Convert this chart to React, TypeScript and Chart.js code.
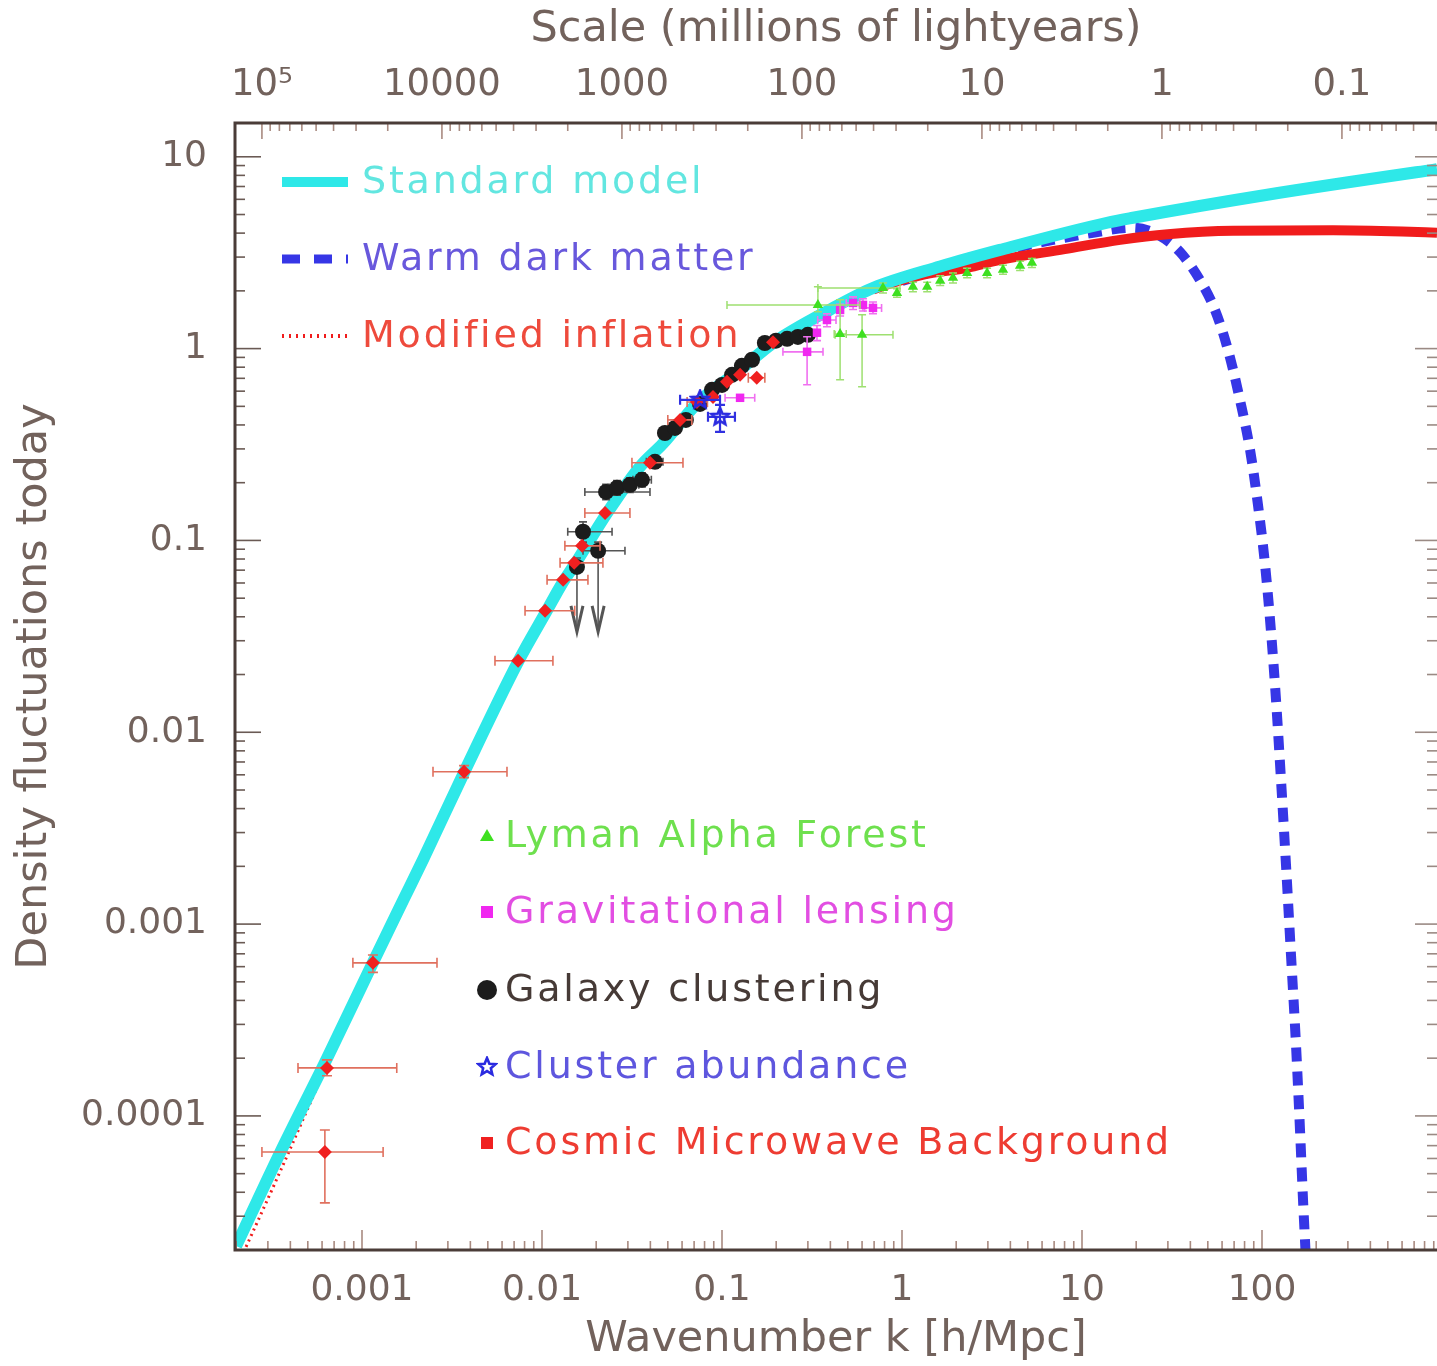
import React, { useEffect, useRef } from "react";
import { Chart, registerables } from "chart.js";
Chart.register(...registerables);

// ---------- axis ranges ----------
const K_MIN = 1.97e-4;
const K_MAX = 938;
const D_MIN = 2.0e-5;
const D_MAX = 15;
const MLY_PER_INV_K = 27.8; // scale [Mly] = MLY_PER_INV_K / k

const K_TICKS = [0.001, 0.01, 0.1, 1, 10, 100];
const K_TICK_LABELS = ["0.001", "0.01", "0.1", "1", "10", "100"];
const D_TICKS = [0.0001, 0.001, 0.01, 0.1, 1, 10];
const D_TICK_LABELS = ["0.0001", "0.001", "0.01", "0.1", "1", "10"];
const SCALE_TICKS = [1e5, 1e4, 1e3, 100, 10, 1, 0.1];
const SCALE_TICK_LABELS = ["10\u2075", "10000", "1000", "100", "10", "1", "0.1"];

// ---------- model curves ----------
const STD_K = [2.0e-4, 3.5e-4, 6.4e-4, 1.15e-3, 1.7e-3, 2.2e-3, 3.7e-3, 7.4e-3, 0.0107, 0.0131, 0.0149, 0.023, 0.035, 0.047, 0.073, 0.126, 0.192, 0.4, 0.69, 1.63, 3.5, 13.8, 19.2, 107, 890, 938];
const STD_Y = [2.1e-5, 6.4e-5, 2.0e-4, 6.3e-4, 1.34e-3, 2.2e-3, 6.2e-3, 0.0235, 0.0435, 0.0608, 0.0728, 0.139, 0.242, 0.32, 0.521, 0.775, 1.07, 1.6, 2.07, 2.68, 3.27, 4.53, 4.81, 6.34, 8.55, 8.61];

const WDM_K = [1.0, 3.5, 11.5, 19.2, 27.1, 35.0, 45.2, 54.8, 64.7, 75.4, 85.8, 95.0, 104, 112, 119.6, 127.5, 135.9, 144.9, 154.5, 162.6, 169, 175.5];
const WDM_Y = [2.25, 3.2, 4.02, 4.27, 3.87, 3.19, 2.28, 1.59, 0.986, 0.541, 0.297, 0.153, 0.0746, 0.0342, 0.0148, 5.65e-3, 2.04e-3, 6.9e-4, 2.34e-4, 8.45e-5, 3.65e-5, 1.77e-5];

const MI_K = [2.0e-4, 3.5e-4, 6.4e-4, 1.15e-3, 3.7e-3, 0.0107, 0.035, 0.126, 0.4, 0.69, 1.3, 2.3, 3.5, 8.0, 16.3, 30, 69, 248, 600, 938];
const MI_Y = [1.6e-5, 5.1e-5, 1.85e-4, 6.1e-4, 6.1e-3, 0.043, 0.24, 0.77, 1.58, 2.03, 2.42, 2.64, 2.9, 3.3, 3.69, 3.95, 4.12, 4.14, 4.08, 4.02];

// ---------- measurements ----------
const LYA_K = [0.341, 0.784, 0.453, 0.6, 0.938, 1.15, 1.38, 1.63, 1.92, 2.3, 2.97, 3.64, 4.53, 5.27];
const LYA_Y = [1.69, 2.07, 1.19, 1.18, 1.95, 2.1, 2.1, 2.26, 2.34, 2.48, 2.48, 2.58, 2.7, 2.8];
const LYA_KLO = [0.1066, 0.341, 0.42, 0.425, null, null, null, null, null, null, null, null, null, null];
const LYA_KHI = [0.585, 0.975, 0.49, 0.891, null, null, null, null, null, null, null, null, null, null];
const LYA_YLO = [1.556, 1.95, 0.688, 0.632, 1.85, 1.98, 1.98, 2.13, 2.2, 2.34, 2.34, 2.44, 2.55, 2.65];
const LYA_YHI = [2.1, 2.2, 1.8, 1.5, 2.05, 2.22, 2.22, 2.4, 2.48, 2.62, 2.62, 2.72, 2.85, 2.95];

const LEN_K = [0.126, 0.297, 0.337, 0.383, 0.453, 0.535, 0.607, 0.69];
const LEN_Y = [0.554, 0.962, 1.21, 1.41, 1.59, 1.73, 1.69, 1.63];
const LEN_KLO = [0.104, 0.218, null, 0.34, null, 0.49, null, 0.62];
const LEN_KHI = [0.152, 0.364, null, 0.43, null, 0.58, null, 0.77];
const LEN_YLO = [null, 0.648, 1.1, 1.3, 1.48, 1.6, 1.57, 1.52];
const LEN_YHI = [null, 1.152, 1.32, 1.52, 1.7, 1.86, 1.82, 1.75];

const GAL_K = [0.01564, 0.0205, 0.0169, 0.0227, 0.0261, 0.0308, 0.0359, 0.0424, 0.0482, 0.0548, 0.063, 0.0755, 0.088, 0.1, 0.1137, 0.129, 0.1468, 0.173, 0.1995, 0.23, 0.264, 0.3];
const GAL_Y = [0.0728, 0.0883, 0.111, 0.179, 0.188, 0.195, 0.207, 0.257, 0.363, 0.386, 0.425, 0.515, 0.61, 0.647, 0.73, 0.813, 0.875, 1.07, 1.1, 1.125, 1.15, 1.18];
const GAL_KLO = [null, 0.0169, 0.0139, 0.0173, 0.0232, 0.0275, 0.032, 0.038, null, null, null, null, null, null, null, null, null, null, null, null, null, null];
const GAL_KHI = [null, 0.0289, 0.0245, 0.0398, 0.0295, 0.0345, 0.0405, 0.047, null, null, null, null, null, null, null, null, null, null, null, null, null, null];
const GAL_YLO = [0.0334, 0.0334, 0.098, 0.163, 0.172, 0.178, 0.19, 0.238, 0.34, 0.36, 0.4, null, null, null, null, null, null, null, null, null, null, null];
const GAL_YHI = [0.081, 0.098, 0.125, 0.196, 0.205, 0.212, 0.225, 0.276, 0.388, 0.41, 0.45, null, null, null, null, null, null, null, null, null, null, null];
const GAL_UPPER_LIMIT = [true, true, false, false, false, false, false, false, false, false, false, false, false, false, false, false, false, false, false, false, false, false];

const CLU_K = [0.0755, 0.0975];
const CLU_Y = [0.541, 0.441];
const CLU_KLO = [0.0585, 0.0836];
const CLU_KHI = [0.0975, 0.118];
const CLU_YLO = [null, 0.368];
const CLU_YHI = [null, 0.509];

const CMB_K = [6.22e-4, 6.39e-4, 1.15e-3, 3.69e-3, 7.36e-3, 0.0104, 0.0131, 0.0151, 0.0167, 0.0224, 0.0398, 0.0585, 0.0726, 0.0891, 0.1066, 0.126, 0.156, 0.192];
const CMB_Y = [6.49e-5, 1.78e-4, 6.28e-4, 6.22e-3, 0.0236, 0.043, 0.0623, 0.0764, 0.0937, 0.139, 0.254, 0.425, 0.527, 0.56, 0.671, 0.731, 0.705, 1.08];
const CMB_KLO = [2.78e-4, 4.41e-4, 8.9e-4, 2.48e-3, 5.48e-3, 8.05e-3, 0.01067, 0.0126, 0.0134, 0.0173, 0.0316, 0.05, 0.064, null, null, null, 0.14, null];
const CMB_KHI = [1.31e-3, 1.56e-3, 2.61e-3, 6.39e-3, 0.0115, 0.0152, 0.018, 0.0218, 0.021, 0.0308, 0.0607, 0.068, 0.083, null, null, null, 0.173, null];
const CMB_YLO = [3.52e-5, 1.62e-4, 5.6e-4, 5.8e-3, null, null, null, null, null, null, null, null, null, null, null, null, null, null];
const CMB_YHI = [8.45e-5, 1.96e-4, 6.9e-4, 6.7e-3, null, null, null, null, null, null, null, null, null, null, null, null, null, null];

// ---------- helpers ----------
const curve = (K: number[], Y: number[]) => K.map((k, i) => ({ x: k, y: Y[i] }));
const pts = (K: number[], Y: number[], KLO?: any[], KHI?: any[], YLO?: any[], YHI?: any[], LIM?: boolean[]) =>
  K.map((k, i) => ({
    x: k,
    y: Y[i],
    xMin: KLO ? KLO[i] : null,
    xMax: KHI ? KHI[i] : null,
    yMin: YLO ? YLO[i] : null,
    yMax: YHI ? YHI[i] : null,
    limit: LIM ? LIM[i] : false,
  }));

const FONT = '"DejaVu Sans", "Liberation Sans", sans-serif';
const AXIS_TEXT = "#72625c";

function makeStar(color: string, r: number) {
  const c = document.createElement("canvas");
  const s = Math.ceil(r * 2 + 4);
  c.width = s;
  c.height = s;
  const g = c.getContext("2d")!;
  g.strokeStyle = color;
  g.lineWidth = 2.6;
  g.beginPath();
  for (let i = 0; i < 10; i++) {
    const rad = i % 2 === 0 ? r : r * 0.45;
    const a = -Math.PI / 2 + (i * Math.PI) / 5;
    const px = s / 2 + rad * Math.cos(a);
    const py = s / 2 + rad * Math.sin(a);
    if (i === 0) g.moveTo(px, py);
    else g.lineTo(px, py);
  }
  g.closePath();
  g.stroke();
  return c;
}

const errorBarPlugin = {
  id: "errorBars",
  beforeDatasetDraw(chart: any, args: any) {
    const ds = chart.data.datasets[args.index];
    if (!ds.errorBars) return;
    const { ctx, chartArea } = chart;
    const xs = chart.scales.x;
    const ys = chart.scales.y;
    const cap = ds.errorBars.cap;
    ctx.save();
    ctx.beginPath();
    ctx.rect(chartArea.left, chartArea.top, chartArea.right - chartArea.left, chartArea.bottom - chartArea.top);
    ctx.clip();
    ctx.strokeStyle = ds.errorBars.color;
    ctx.lineWidth = ds.errorBars.width;
    for (const p of ds.data) {
      const px = xs.getPixelForValue(p.x);
      const py = ys.getPixelForValue(p.y);
      ctx.beginPath();
      if (p.xMin != null && p.xMax != null) {
        const a = xs.getPixelForValue(p.xMin);
        const b = xs.getPixelForValue(p.xMax);
        ctx.moveTo(a, py); ctx.lineTo(b, py);
        ctx.moveTo(a, py - cap); ctx.lineTo(a, py + cap);
        ctx.moveTo(b, py - cap); ctx.lineTo(b, py + cap);
      }
      if (p.yMin != null && p.yMax != null) {
        const a = ys.getPixelForValue(p.yMin);
        const b = ys.getPixelForValue(p.yMax);
        ctx.moveTo(px, a); ctx.lineTo(px, b);
        ctx.moveTo(px - cap, b); ctx.lineTo(px + cap, b);
        if (!p.limit) { ctx.moveTo(px - cap, a); ctx.lineTo(px + cap, a); }
      }
      ctx.stroke();
      if (p.limit && p.yMin != null) {
        const tip = ys.getPixelForValue(p.yMin);
        ctx.save();
        ctx.strokeStyle = "#555";
        ctx.lineWidth = 3;
        ctx.beginPath();
        ctx.moveTo(px - 6, tip - 26);
        ctx.lineTo(px, tip);
        ctx.lineTo(px + 6, tip - 26);
        ctx.stroke();
        ctx.restore();
      }
    }
    ctx.restore();
  },
};

function logTicks(scale: any, cb: (p: number, major: boolean) => void) {
  const lo = Math.min(scale.min, scale.max);
  const hi = Math.max(scale.min, scale.max);
  for (let e = Math.floor(Math.log10(lo)) - 1; e <= Math.ceil(Math.log10(hi)); e++) {
    for (let m = 1; m <= 9; m++) {
      const v = m * Math.pow(10, e);
      if (v < lo || v > hi) continue;
      cb(scale.getPixelForValue(v), m === 1);
    }
  }
}

const framePlugin = {
  id: "frameTicks",
  afterDraw(chart: any) {
    const { ctx, chartArea: ca } = chart;
    ctx.save();
    ctx.lineWidth = 1.6;
    ctx.strokeStyle = "#a88a80";
    logTicks(chart.scales.x, (p, major) => {
      ctx.beginPath(); ctx.moveTo(p, ca.bottom); ctx.lineTo(p, ca.bottom - (major ? 20 : 9)); ctx.stroke();
    });
    logTicks(chart.scales.x2, (p, major) => {
      ctx.beginPath(); ctx.moveTo(p, ca.top); ctx.lineTo(p, ca.top + (major ? 16 : 8)); ctx.stroke();
    });
    ctx.strokeStyle = "#6a5a54";
    logTicks(chart.scales.y, (p, major) => {
      ctx.beginPath(); ctx.moveTo(ca.left, p); ctx.lineTo(ca.left + (major ? 26 : 10), p); ctx.stroke();
    });
    ctx.strokeStyle = "#9a8a84";
    logTicks(chart.scales.y, (p, major) => {
      ctx.beginPath(); ctx.moveTo(ca.right, p); ctx.lineTo(ca.right - (major ? 22 : 10), p); ctx.stroke();
    });
    ctx.strokeStyle = "#4a3c38";
    ctx.lineWidth = 3;
    ctx.beginPath();
    ctx.moveTo(ca.right + 2, ca.top); ctx.lineTo(ca.left, ca.top); ctx.lineTo(ca.left, ca.bottom); ctx.lineTo(ca.right + 2, ca.bottom);
    ctx.stroke();
    ctx.restore();
  },
};

const legendPlugin = {
  id: "customLegend",
  afterDraw(chart: any) {
    const ctx = chart.ctx;
    const dss = chart.data.datasets;
    ctx.save();
    ctx.font = `38px ${FONT}`;
    ctx.textBaseline = "middle";
    ctx.textAlign = "left";
    try { (ctx as any).letterSpacing = "2.8px"; } catch (e) {}
    const lineItems = dss.filter((d: any) => d.legendGroup === "line");
    const lineYs = [182, 259, 336];
    lineItems.forEach((d: any, i: number) => {
      const y = lineYs[i];
      ctx.save();
      ctx.strokeStyle = d.borderColor;
      ctx.lineWidth = d.legendLineWidth;
      ctx.setLineDash(d.legendDash);
      ctx.beginPath(); ctx.moveTo(282, y); ctx.lineTo(348, y); ctx.stroke();
      ctx.restore();
      ctx.fillStyle = d.legendTextColor;
      ctx.fillText(d.label, 362, y + 1);
    });
    const markItems = dss.filter((d: any) => d.legendGroup === "marker");
    const markYs = [836, 912, 990, 1067, 1143];
    markItems.forEach((d: any, i: number) => {
      const y = markYs[i];
      const x = 487;
      ctx.save();
      ctx.fillStyle = d.backgroundColor;
      const st = d.legendShape;
      ctx.beginPath();
      if (st === "triangle") { ctx.moveTo(x, y - 7); ctx.lineTo(x + 7, y + 5); ctx.lineTo(x - 7, y + 5); ctx.closePath(); ctx.fill(); }
      else if (st === "square") { ctx.fillRect(x - 6, y - 6, 12, 12); }
      else if (st === "circle") { ctx.arc(x, y, 10, 0, Math.PI * 2); ctx.fill(); }
      else if (st === "star") { ctx.drawImage(d.pointStyle, x - d.pointStyle.width / 2, y - d.pointStyle.height / 2); }
      ctx.restore();
      ctx.fillStyle = d.legendTextColor;
      ctx.fillText(d.label, 505, y + 1);
    });
    ctx.restore();
  },
};

const noPad = (s: any) => { s.paddingLeft = 0; s.paddingRight = 0; s.paddingTop = 0; s.paddingBottom = 0; };

export default function App() {
  const ref = useRef<HTMLCanvasElement | null>(null);
  useEffect(() => {
    document.body.style.margin = "0";
    const star = makeStar("#2a2ae0", 9);
    const chart = new Chart(ref.current!, {
      type: "scatter",
      data: {
        datasets: [
          {
            label: "Lyman Alpha Forest", type: "scatter", order: 0,
            data: pts(LYA_K, LYA_Y, LYA_KLO, LYA_KHI, LYA_YLO, LYA_YHI),
            pointStyle: "triangle", pointRadius: 6, backgroundColor: "#3ee020", borderColor: "#3ee020", borderWidth: 0,
            errorBars: { color: "#9ee070", width: 1.5, cap: 4 }, legendGroup: "marker", legendShape: "triangle", legendTextColor: "#6ee04e",
          } as any,
          {
            label: "Gravitational lensing", type: "scatter", order: 1,
            data: pts(LEN_K, LEN_Y, LEN_KLO, LEN_KHI, LEN_YLO, LEN_YHI),
            pointStyle: "rect", pointRadius: 6, backgroundColor: "#f028f0", borderColor: "#f028f0", borderWidth: 0,
            errorBars: { color: "#f070f0", width: 1.6, cap: 4 }, legendGroup: "marker", legendShape: "square", legendTextColor: "#e24ee2",
          } as any,
          {
            label: "Galaxy clustering", type: "scatter", order: 4,
            data: pts(GAL_K, GAL_Y, GAL_KLO, GAL_KHI, GAL_YLO, GAL_YHI, GAL_UPPER_LIMIT),
            pointStyle: "circle", pointRadius: 8, backgroundColor: "#1c1c1c", borderColor: "#1c1c1c", borderWidth: 0,
            errorBars: { color: "#555555", width: 1.6, cap: 4 }, legendGroup: "marker", legendShape: "circle", legendTextColor: "#463a36",
          } as any,
          {
            label: "Cluster abundance", type: "scatter", order: 2,
            data: pts(CLU_K, CLU_Y, CLU_KLO, CLU_KHI, CLU_YLO, CLU_YHI),
            pointStyle: star, pointRadius: 8, backgroundColor: "#2a2ae0", borderColor: "#2a2ae0",
            errorBars: { color: "#3030e0", width: 2.2, cap: 5 }, legendGroup: "marker", legendShape: "star", legendTextColor: "#5e56de",
          } as any,
          {
            label: "Cosmic Microwave Background", type: "scatter", order: 3,
            data: pts(CMB_K, CMB_Y, CMB_KLO, CMB_KHI, CMB_YLO, CMB_YHI),
            pointStyle: "rectRot", pointRadius: 7, backgroundColor: "#f02020", borderColor: "#f02020", borderWidth: 0,
            errorBars: { color: "#e0705e", width: 1.6, cap: 5 }, legendGroup: "marker", legendShape: "square", legendTextColor: "#ee3c32",
          } as any,
          {
            label: "Standard model", type: "line", order: 5,
            data: curve(STD_K, STD_Y), showLine: true, pointRadius: 0, borderColor: "#2ee8e8", borderWidth: 12,
            cubicInterpolationMode: "monotone", legendGroup: "line", legendLineWidth: 10, legendDash: [], legendTextColor: "#62e6e0",
          } as any,
          {
            label: "Warm dark matter", type: "line", order: 7,
            data: curve(WDM_K, WDM_Y), showLine: true, pointRadius: 0, borderColor: "#3636e6", borderWidth: 10,
            borderDash: [14, 10], cubicInterpolationMode: "monotone",
            legendGroup: "line", legendLineWidth: 9, legendDash: [18, 14], legendTextColor: "#6858dc",
          } as any,
          {
            label: "Modified inflation", type: "line", order: 6,
            data: curve(MI_K, MI_Y), showLine: true, pointRadius: 0, borderColor: "#f01c1c", borderWidth: 3,
            borderDash: [2, 4], cubicInterpolationMode: "monotone",
            segment: {
              borderWidth: (c: any) => (c.p0.parsed.x >= 0.5 ? 10 : 3),
              borderDash: (c: any) => (c.p0.parsed.x >= 0.5 ? [] : [2, 4]),
            },
            legendGroup: "line", legendLineWidth: 4, legendDash: [2, 5], legendTextColor: "#ee4a3c",
          } as any,
        ],
      },
      options: {
        animation: false,
        responsive: false,
        devicePixelRatio: 1,
        layout: { padding: 0, autoPadding: false },
        plugins: { legend: { display: false }, tooltip: { enabled: false } },
        scales: {
          x: {
            type: "logarithmic", position: "bottom", min: K_MIN, max: K_MAX,
            grid: { display: false, drawTicks: false }, border: { display: false },
            afterBuildTicks: (s: any) => { s.ticks = K_TICKS.map((v) => ({ value: v })); },
            afterFit: (s: any) => { s.height = 116; noPad(s); },
            ticks: { autoSkip: false, maxRotation: 0, padding: 19, color: AXIS_TEXT, font: { family: FONT, size: 36 }, callback: (_v: any, i: number) => K_TICK_LABELS[i] },
            title: { display: true, text: "Wavenumber k [h/Mpc]", color: AXIS_TEXT, font: { family: FONT, size: 43 }, padding: { top: 0, bottom: 0 } },
          },
          x2: {
            type: "logarithmic", position: "top", reverse: true, min: MLY_PER_INV_K / K_MAX, max: MLY_PER_INV_K / K_MIN,
            grid: { display: false, drawTicks: false }, border: { display: false },
            afterBuildTicks: (s: any) => { s.ticks = SCALE_TICKS.map((v) => ({ value: v })); },
            afterFit: (s: any) => { s.height = 123; noPad(s); },
            ticks: { autoSkip: false, maxRotation: 0, padding: 15, color: AXIS_TEXT, font: { family: FONT, size: 37 }, callback: (_v: any, i: number) => SCALE_TICK_LABELS[i] },
            title: { display: true, text: "Scale (millions of lightyears)", color: AXIS_TEXT, font: { family: FONT, size: 43 }, padding: { top: 4, bottom: 0 } },
          },
          y: {
            type: "logarithmic", position: "left", min: D_MIN, max: D_MAX,
            grid: { display: false, drawTicks: false }, border: { display: false },
            afterBuildTicks: (s: any) => { s.ticks = D_TICKS.map((v) => ({ value: v })); },
            afterFit: (s: any) => { s.width = 235; noPad(s); },
            ticks: { autoSkip: false, padding: 28, color: AXIS_TEXT, font: { family: FONT, size: 36 }, callback: (_v: any, i: number) => D_TICK_LABELS[i] },
            title: { display: true, text: "Density fluctuations today", color: AXIS_TEXT, font: { family: FONT, size: 43 }, padding: { top: 9, bottom: 0 } },
          },
        },
      } as any,
      plugins: [errorBarPlugin, framePlugin, legendPlugin] as any,
    });
    return () => chart.destroy();
  }, []);
  return <canvas ref={ref} width={1437} height={1366} style={{ display: "block" }} />;
}
